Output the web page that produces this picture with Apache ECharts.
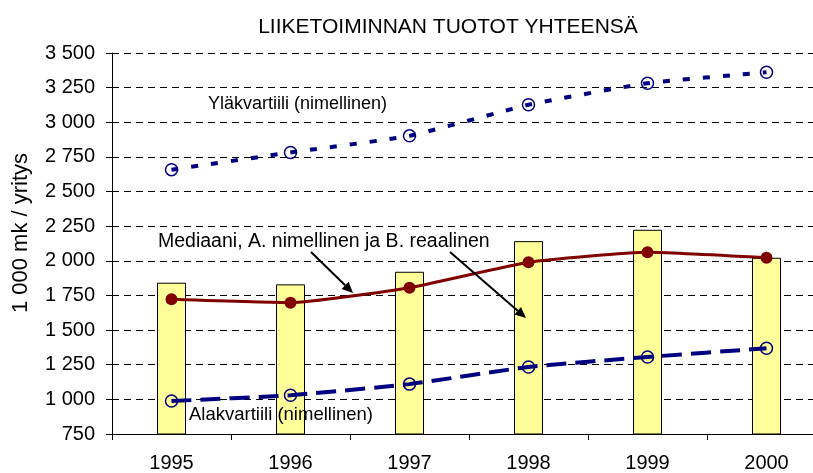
<!DOCTYPE html>
<html>
<head>
    <meta charset="utf-8">
    <script src="https://cdn.jsdelivr.net/npm/echarts@6/dist/echarts.min.js"></script>
    <style>
        body { margin: 0; background: #fff; overflow: hidden; }
    </style>
</head>
<body>
<!-- kaavio jatkuu hieman oikean reunan yli, kuten alkuperäisessä -->
<div id="main" style="width: 826px;height: 473px;"></div>
<script type="text/javascript">
    // vuodet ja arvot (1 000 mk / yritys)
    var years = ['1995', '1996', '1997', '1998', '1999', '2000'];
    var bars = [1842, 1830, 1921, 2142, 2224, 2022];
    var median = [1722, 1698, 1806, 1990, 2062, 2022];
    var upper = [2658, 2782, 2902, 3126, 3282, 3361];
    var lower = [988, 1030, 1110, 1234, 1306, 1369];

    var font = '"Liberation Sans", Arial, sans-serif';

    function fmt(v) {
        if (v < 1000) return '' + v;
        var r = v % 1000;
        return Math.floor(v / 1000) + ' ' + (r < 10 ? '00' : r < 100 ? '0' : '') + r;
    }

    // nuoli: viiva + kärki
    function arrow(x1, y1, x2, y2) {
        var a = Math.atan2(y2 - y1, x2 - x1);
        var L = 11, W = 5;
        var bx = x2 - L * Math.cos(a), by = y2 - L * Math.sin(a);
        return [
            {type: 'line', shape: {x1: x1, y1: y1, x2: bx, y2: by}, style: {stroke: '#000', lineWidth: 2}, z: 100},
            {type: 'polygon', shape: {points: [[x2, y2],
                [bx + W * Math.sin(a), by - W * Math.cos(a)],
                [bx - W * Math.sin(a), by + W * Math.cos(a)]]}, style: {fill: '#000'}, z: 100}
        ];
    }

    var myChart = echarts.init(document.getElementById('main'));

    var option = {
        animation: false,
        backgroundColor: '#fff',
        title: {
            text: 'LIIKETOIMINNAN TUOTOT YHTEENSÄ',
            left: 443,
            top: 12,
            textAlign: 'center',
            textStyle: {fontFamily: font, fontSize: 21, fontWeight: 'normal', color: '#000'}
        },
        grid: {left: 112, top: 53, right: 0, bottom: 38},
        xAxis: {
            type: 'category',
            data: years,
            axisLine: {lineStyle: {color: '#000', width: 1}},
            axisTick: {show: true, length: 6, lineStyle: {color: '#000'}},
            axisLabel: {color: '#000', fontFamily: font, fontSize: 20, margin: 19}
        },
        yAxis: {
            type: 'value',
            min: 750,
            max: 3500,
            interval: 250,
            axisLine: {show: true, lineStyle: {color: '#000', width: 1}},
            axisTick: {show: true, length: 6, lineStyle: {color: '#000'}},
            axisLabel: {color: '#000', fontFamily: font, fontSize: 20, margin: 17, formatter: fmt},
            splitLine: {lineStyle: {color: '#000', type: [7, 5], width: 1}}
        },
        graphic: [
            {type: 'text', rotation: Math.PI / 2, x: 21, y: 233,
                style: {text: '1 000 mk / yritys', fill: '#000', font: '22px ' + font, textAlign: 'center', textVerticalAlign: 'middle'}},
            {type: 'text', x: 208, y: 104, style: {text: 'Yläkvartiili (nimellinen)', fill: '#000', font: '18px ' + font, textVerticalAlign: 'middle'}, z: 100},
            {type: 'text', x: 158, y: 242, style: {text: 'Mediaani, A. nimellinen ja B. reaalinen', fill: '#000', font: '19.5px ' + font, textVerticalAlign: 'middle'}, z: 100},
            {type: 'text', x: 189, y: 415, style: {text: 'Alakvartiili (nimellinen)', fill: '#000', font: '18.5px ' + font, textVerticalAlign: 'middle'}, z: 100}
        ].concat(arrow(311, 252, 353, 293)).concat(arrow(450, 252, 526, 318)),
        series: [
            {
                name: 'B. reaalinen',
                type: 'bar',
                data: bars,
                barWidth: 29,
                itemStyle: {color: '#FFFF99', borderColor: '#000', borderWidth: 1}
            },
            {
                name: 'Yläkvartiili',
                type: 'line',
                data: upper,
                smooth: 0.15,
                symbol: 'circle',
                symbolSize: 12,
                itemStyle: {color: 'rgba(0,0,0,0)', borderColor: '#000080', borderWidth: 1.5},
                lineStyle: {color: '#000080', width: 4, type: [7, 13]},
                z: 5
            },
            {
                name: 'Mediaani',
                type: 'line',
                data: median,
                smooth: 0.15,
                symbol: 'circle',
                symbolSize: 12,
                itemStyle: {color: '#800000'},
                lineStyle: {color: '#800000', width: 3},
                z: 5
            },
            {
                name: 'Alakvartiili',
                type: 'line',
                data: lower,
                smooth: 0.15,
                symbol: 'circle',
                symbolSize: 12,
                itemStyle: {color: 'rgba(0,0,0,0)', borderColor: '#000080', borderWidth: 1.5},
                lineStyle: {color: '#000080', width: 4, type: [20, 9]},
                z: 5
            }
        ]
    };

    myChart.setOption(option);
</script>
</body>
</html>
